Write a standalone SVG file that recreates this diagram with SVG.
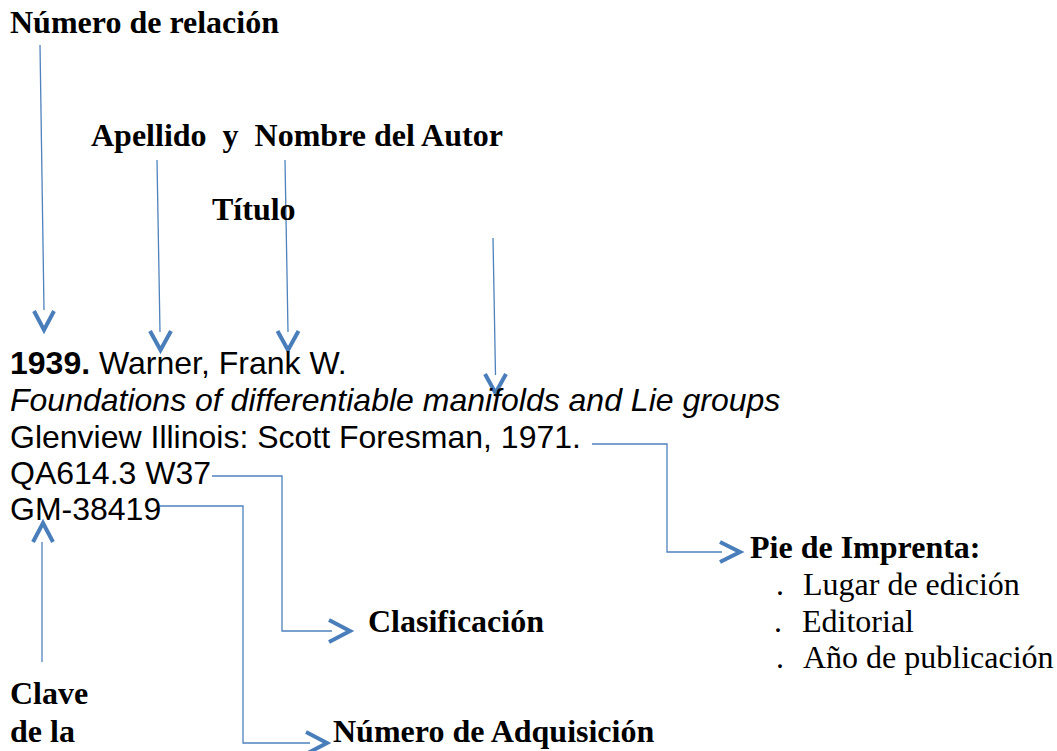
<svg xmlns="http://www.w3.org/2000/svg" width="1057" height="751" viewBox="0 0 1057 751">
<style>
.lbl{font-family:"Liberation Serif","Times New Roman",serif;font-size:32px;font-weight:bold;fill:#000;white-space:pre}
.reg{font-family:"Liberation Serif","Times New Roman",serif;font-size:32px;fill:#000;white-space:pre}
.rec{font-family:"Liberation Sans",Arial,sans-serif;font-size:32px;fill:#000;white-space:pre}
.ln{fill:none;stroke:#4f81bd;stroke-width:1.3}
.chev{fill:none;stroke:#4a7ebb;stroke-width:4;stroke-linejoin:miter;stroke-linecap:butt}
</style>
<rect width="1057" height="751" fill="#fff"/>

<g id="connectors">
  <line class="ln" x1="40" y1="45" x2="44" y2="310"/>
  <polyline class="chev" points="34,311 44,330 54,311"/>
  <line class="ln" x1="157" y1="160" x2="160" y2="332"/>
  <polyline class="chev" points="150,331 160.5,350 171,331"/>
  <line class="ln" x1="285" y1="160" x2="288" y2="332"/>
  <polyline class="chev" points="277.5,331 288,350 298.5,331"/>
  <line class="ln" x1="493" y1="238" x2="495.5" y2="375"/>
  <polyline class="chev" points="485,374 495.5,393 506,374"/>
  <polyline class="ln" points="592,444 667,444 667,552 722,552"/>
  <polyline class="chev" points="720,542 740,552 720,562"/>
  <polyline class="ln" points="212,476 282,476 282,631 332,631"/>
  <polyline class="chev" points="329,620 350,631 329,642"/>
  <polyline class="ln" points="160,506 243,506 243,743 310,743"/>
  <polyline class="chev" points="306,732 327,743 306,754"/>
  <line class="ln" x1="42" y1="542" x2="42" y2="662"/>
  <polyline class="chev" points="33,542 43,523 53,542"/>
</g>

<g id="numero-relacion"><text class="lbl" x="10" y="33">Número de relación</text></g>
<g id="autor"><text class="lbl" x="91" y="146">Apellido  y  Nombre del Autor</text></g>
<g id="titulo"><text class="lbl" x="212" y="220">Título</text></g>

<g id="ficha">
  <text class="rec" x="10" y="374"><tspan font-weight="bold">1939.</tspan> Warner, Frank W.</text>
  <text class="rec" x="10" y="411" font-style="italic">Foundations of differentiable manifolds and Lie groups</text>
  <text class="rec" x="10" y="447.5">Glenview Illinois: Scott Foresman, 1971.</text>
  <text class="rec" x="10" y="484">QA614.3 W37</text>
  <text class="rec" x="10" y="520">GM-38419</text>
</g>

<g id="pie-imprenta">
  <text class="lbl" x="750" y="558">Pie de Imprenta:</text>
  <text class="reg" y="595"><tspan x="776">.</tspan><tspan x="803">Lugar de edición</tspan></text>
  <text class="reg" y="632"><tspan x="774">.</tspan><tspan x="802">Editorial</tspan></text>
  <text class="reg" y="668"><tspan x="776">.</tspan><tspan x="803">Año de publicación</tspan></text>
</g>

<g id="clasificacion"><text class="lbl" x="368" y="632">Clasificación</text></g>
<g id="adquisicion"><text class="lbl" x="333" y="742">Número de Adquisición</text></g>
<g id="clave">
  <text class="lbl" x="10" y="704">Clave</text>
  <text class="lbl" x="10" y="742">de la</text>
</g>
</svg>
